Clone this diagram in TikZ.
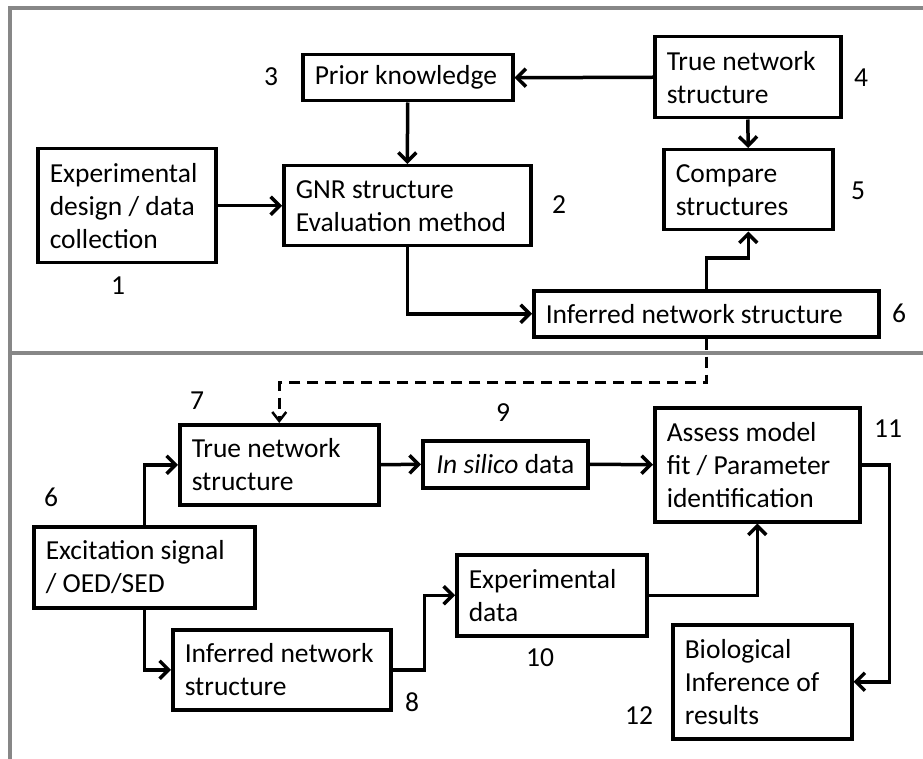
\documentclass[tikz,border=0pt]{standalone}
\usepackage{fontspec}
\setmainfont{Carlito}
\usetikzlibrary{arrows.meta,calc}
\definecolor{framegrey}{RGB}{135,135,135}
\tikzset{
  box/.style={draw, line width=3.5pt, inner xsep=12pt, inner ysep=0pt, align=flush left, anchor=north west},
  num/.style={inner sep=0pt},
  flow/.style={line width=3.5pt, -{Straight Barb[length=9pt,width=18pt,line width=3.5pt]}},
  dflow/.style={line width=3pt, dash pattern=on 11pt off 7pt, -{Straight Barb[length=9pt,width=14pt,line width=2.5pt]}}
}

\begin{document}
\begin{tikzpicture}[x=1pt, y=-1pt, font=\fontsize{27.5}{33}\selectfont]
\useasboundingbox (0,0) rectangle (923,759);
% frame
\draw [framegrey, line width=4pt] (10,759)--(10,8)--(923,8);
\draw [framegrey, line width=4pt] (10,353)--(923,353);

% upper part
\node [box, minimum height=114pt, text width=154pt] (b1) at (36,147) {Experimental\\design / data\\collection};
\node [box, minimum height=80pt, text width=223pt] (b2) at (282,164) {GNR structure\\Evaluation method};
\node [box, minimum height=46pt, text width=186pt] (b3) at (301,53) {Prior knowledge};
\node [box, minimum height=81pt, text width=162pt] (b4) at (653,35) {True network\\structure};
\node [box, minimum height=80pt, text width=145pt] (b5) at (662,148) {Compare\\structures};
\node [box, minimum height=46pt, text width=321pt] (b6) at (532,289) {Inferred network structure};
\node [num] (n1) at (118,286) {1};
\node [num] (n2) at (559,205) {2};
\node [num] (n3) at (271,77) {3};
\node [num] (n4) at (861,78) {4};
\node [num] (n5) at (858,191) {5};
\node [num] (n6) at (899,313) {6};

\draw [flow] (b4.west) -- (b3.east);
\draw [flow] (b3.south) -- (b2.north);
\draw [flow] (b1.east) -- (b2.west);
\draw [flow] (b4.south) -- (b5.north);
\draw [flow] (b2.south) |- (b6.west);
\draw [flow] (b6.north) -- ++(0,-31) -| (b5.south);

% lower part
\node [box, minimum height=80pt, text width=175pt] (b7) at (178,423) {True network\\structure};
\node [box, minimum height=47pt, minimum width=165pt] (b9) at (421,439) {\textit{In silico} data};
\node [box, minimum height=114pt, text width=181pt] (b11) at (653,406) {Assess model\\fit / Parameter\\identification};
\node [box, minimum height=81pt, text width=197pt] (bx) at (32,525) {Excitation signal\\/ OED/SED};
\node [box, minimum height=81pt, text width=166pt] (b10) at (455,553) {Experimental\\data};
\node [box, minimum height=80pt, text width=194pt] (b8) at (171,628) {Inferred network\\structure};
\node [box, minimum height=114pt, text width=155pt] (b12) at (671,623) {Biological\\Inference of\\results};
\node [num] (n7) at (197,401) {7};
\node [num] (n9) at (503,413) {9};
\node [num] (n11) at (888,429) {11};
\node [num] (nx) at (51,497) {6};
\node [num] (n10) at (540,658) {10};
\node [num] (n8) at (412,702) {8};
\node [num] (n12) at (639,716) {12};

\draw [dflow] (b6.south) -- ++(0,44) -| (b7.north);
\draw [flow] (bx.north) |- (b7.west);
\draw [flow] (bx.south) |- (b8.west);
\draw [flow] (b7.east) -- (b9.west);
\draw [flow] (b9.east) -- (b11.west);
\draw [flow] (b8.east) -- ++(32,0) |- (b10.west);
\draw [flow] (b10.east) -| (b11.south);
\draw [flow] (b11.east) -- ++(28,0) |- (b12.east);
\end{tikzpicture}
\end{document}
